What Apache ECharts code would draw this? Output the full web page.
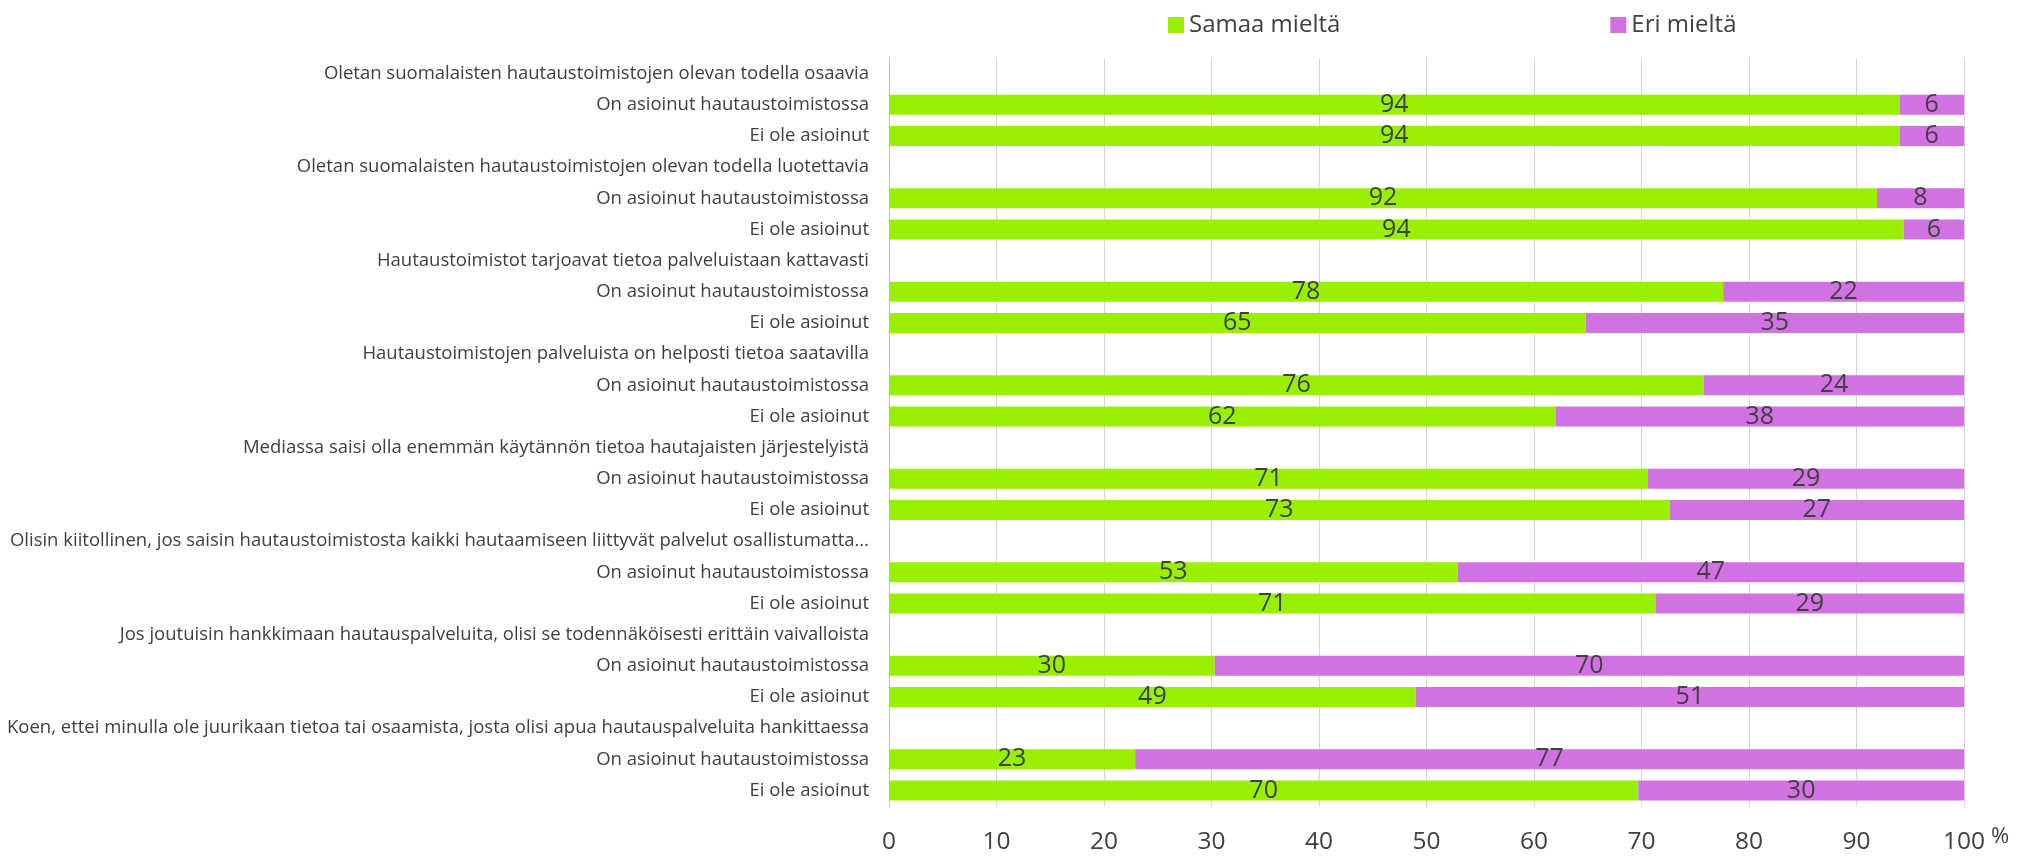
<!DOCTYPE html>
<html>
<head>
<meta charset="utf-8">
<script src="https://cdn.jsdelivr.net/npm/echarts@6/dist/echarts.min.js"></script>
<style>
html,body{margin:0;padding:0;background:#fff;}
#chart{width:2018px;height:856px;}
</style>
</head>
<body>
<div id="chart"></div>
<script>
const categories = [
  "Oletan suomalaisten hautaustoimistojen olevan todella osaavia",
  "On asioinut hautaustoimistossa",
  "Ei ole asioinut",
  "Oletan suomalaisten hautaustoimistojen olevan todella luotettavia",
  "On asioinut hautaustoimistossa",
  "Ei ole asioinut",
  "Hautaustoimistot tarjoavat tietoa palveluistaan kattavasti",
  "On asioinut hautaustoimistossa",
  "Ei ole asioinut",
  "Hautaustoimistojen palveluista on helposti tietoa saatavilla",
  "On asioinut hautaustoimistossa",
  "Ei ole asioinut",
  "Mediassa saisi olla enemmän käytännön tietoa hautajaisten järjestelyistä",
  "On asioinut hautaustoimistossa",
  "Ei ole asioinut",
  "Olisin kiitollinen, jos saisin hautaustoimistosta kaikki hautaamiseen liittyvät palvelut osallistumatta…",
  "On asioinut hautaustoimistossa",
  "Ei ole asioinut",
  "Jos joutuisin hankkimaan hautauspalveluita, olisi se todennäköisesti erittäin vaivalloista",
  "On asioinut hautaustoimistossa",
  "Ei ole asioinut",
  "Koen, ettei minulla ole juurikaan tietoa tai osaamista, josta olisi apua hautauspalveluita hankittaessa",
  "On asioinut hautaustoimistossa",
  "Ei ole asioinut"
];
const seriesNames = ["Samaa mieltä", "Eri mieltä"];
const samaa = [null, 94.0, 94.0, null, 91.9, 94.4, null, 77.6, 64.8, null, 75.8, 62.0, null, 70.6, 72.6, null, 52.9, 71.3, null, 30.3, 49.0, null, 22.9, 69.7];
const eri   = [null, 6.0, 6.0, null, 8.1, 5.6, null, 22.4, 35.2, null, 24.2, 38.0, null, 29.4, 27.4, null, 47.1, 28.7, null, 69.7, 51.0, null, 77.1, 30.3];
const xTicks = [0, 10, 20, 30, 40, 50, 60, 70, 80, 90, 100];

const FONT = "Open Sans";
const TXT = "#404040";

const chart = echarts.init(document.getElementById('chart'), null, {renderer: 'canvas'});
const labelCfg = {
  show: true,
  position: 'inside',
  color: TXT,
  fontFamily: FONT,
  fontSize: 25,
  formatter: p => (p.value == null ? '' : String(Math.round(p.value)))
};
chart.setOption({
  animation: false,
  backgroundColor: '#ffffff',
  textStyle: {fontFamily: FONT},
  color: ['#98F000', '#D272E2'],
  legend: {
    data: seriesNames,
    left: 1163,
    top: 8,
    itemWidth: 16,
    itemHeight: 16,
    itemGap: 270,
    itemTextGap: 6,
    icon: 'rect',
    textStyle: {color: TXT, fontSize: 24, fontFamily: FONT}
  },
  grid: {left: 889, right: 54, top: 58, bottom: 50, containLabel: false, outerBoundsMode: 'none'},
  xAxis: {
    type: 'value',
    min: xTicks[0],
    max: xTicks[xTicks.length - 1],
    interval: 10,
    name: '%',
    nameLocation: 'end',
    nameGap: 18,
    nameTextStyle: {color: TXT, fontSize: 22, fontFamily: FONT, verticalAlign: 'top', padding: [20, 0, 0, 0]},
    axisLine: {show: false},
    axisTick: {show: false},
    splitLine: {show: true, lineStyle: {color: '#d4d4d4', width: 1}},
    axisLabel: {color: TXT, fontSize: 24.5, fontFamily: FONT, margin: 24}
  },
  yAxis: {
    type: 'category',
    data: categories,
    inverse: true,
    axisLine: {show: true, lineStyle: {color: '#bfbfbf', width: 1}},
    axisTick: {show: false},
    axisLabel: {color: TXT, fontSize: 18.5, fontFamily: FONT, margin: 20, interval: 0}
  },
  series: [
    {name: seriesNames[0], type: 'bar', stack: 'all', data: samaa, barWidth: 20, label: labelCfg},
    {name: seriesNames[1], type: 'bar', stack: 'all', data: eri, barWidth: 20, label: labelCfg}
  ]
});
</script>
</body>
</html>
